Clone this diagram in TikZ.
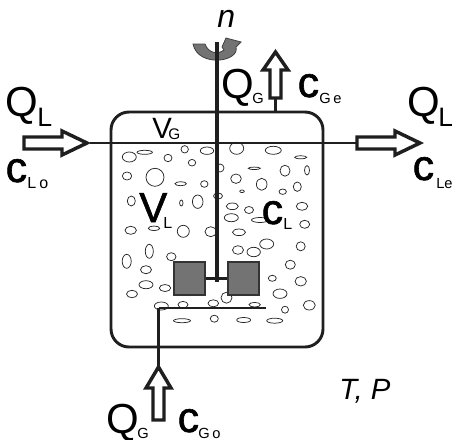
\documentclass[tikz,border=0pt]{standalone}
\usepackage{fontspec}
\setmainfont{Liberation Sans}
\newfontfamily\heavyfont[FakeBold=1.4]{Liberation Sans}
\tikzset{
  lab/.style={inner sep=0pt,anchor=base west},
  big/.style={lab,font=\fontsize{31.5pt}{32pt}\selectfont},
  cee/.style={lab,font=\fontsize{32pt}{33pt}\heavyfont},
  mid/.style={lab,font=\fontsize{20pt}{20pt}\selectfont},
  sub/.style={lab,font=\fontsize{12pt}{12pt}\selectfont},
  small/.style={lab,font=\fontsize{11pt}{11pt}\selectfont},
  ital/.style={lab,font=\fontsize{22pt}{22pt}\selectfont\itshape},
  tank/.style={draw=black!88,line width=2.2pt,rounded corners=13.5pt},
  heavy line/.style={draw=black!88,line width=2.8pt},
  bar line/.style={draw=black!88,line width=2.2pt},
  thin line/.style={draw=black!88,line width=1.2pt},
  bub/.style={draw=black!85,line width=0.55pt,fill=white},
  flow/.style={draw=black!88,line width=2.6pt,fill=white,miter limit=10},
  blade/.style={draw=black!80,line width=0.9pt,fill=black!55,inner sep=0pt,minimum width=23.25pt,minimum height=24.75pt},
}
\newcommand{\bb}[4]{\draw[bub] (#1,#2) ellipse [x radius=#3,y radius=#4];}
\begin{document}
\begin{tikzpicture}[x=0.75pt,y=-0.75pt]
\useasboundingbox (0,0) rectangle (452,439);
% bubbles
\bb{129.3}{157}{7}{5}\bb{144.7}{152.3}{7.7}{2}\bb{168}{158}{4}{3.7}\bb{184.7}{149.3}{3.7}{3.7}
\bb{207}{150.7}{6.7}{3.7}\bb{192}{162.7}{3.7}{3.3}\bb{127}{176}{4.7}{4}\bb{155}{177.3}{9}{9}
\bb{180.7}{183.7}{5.7}{2}\bb{204.3}{184}{3.7}{3.3}\bb{131.3}{201}{4}{5}\bb{181.3}{203}{1.7}{3}
\bb{197.7}{201.7}{5.3}{6.7}\bb{218}{196}{4.5}{3}\bb{220}{168}{4}{4}\bb{154}{228.3}{5.7}{2.3}
\bb{130.7}{230.3}{5.7}{4}\bb{183.3}{231.3}{6}{6}\bb{210.7}{231.7}{5.7}{5}\bb{149.3}{251.3}{4}{7}
\bb{126.7}{261.3}{4.5}{7}\bb{171.3}{256.7}{4.7}{4}\bb{146}{269.7}{5.5}{4}\bb{146}{284.7}{7}{4}
\bb{165}{288}{5.7}{3.5}\bb{132}{294}{5.5}{3.7}\bb{161.3}{306}{7}{4}\bb{183}{304.7}{5}{3.3}
\bb{213.3}{303.3}{5.3}{3.5}\bb{182}{320.7}{8.5}{2}\bb{214.3}{318.7}{4}{3.5}
\bb{232.3}{206.3}{6}{3.3}\bb{249}{210}{4.5}{3.5}\bb{231.3}{217.7}{7}{4}\bb{260}{220}{8.5}{2.5}
\bb{302}{206.3}{5.7}{4}\bb{304.7}{224.3}{5}{4}\bb{239}{232.3}{6.5}{3.3}\bb{266.7}{244}{7}{5}
\bb{238}{250}{5.5}{4.3}\bb{253.7}{252}{6.7}{4.7}\bb{300.7}{246.3}{4.5}{4.5}\bb{290.3}{264.7}{5}{4.5}
\bb{272.3}{278.3}{4}{3}\bb{300.7}{281.3}{5.7}{4.7}\bb{280}{293.7}{7}{4.7}\bb{254.7}{304.7}{5.7}{2.3}
\bb{285}{309.7}{3.5}{3.5}\bb{309.3}{305.3}{6}{4.7}\bb{243.7}{320}{7}{2.5}\bb{274.7}{320.7}{8}{2.5}
\bb{236.7}{148.3}{7}{6}\bb{273.3}{150.3}{8}{4}\bb{300.7}{157.3}{6}{1.5}\bb{254.3}{168.3}{6}{1.2}
\bb{285}{170.7}{5}{5.5}\bb{307}{170.3}{2.5}{4.7}\bb{236}{178.7}{5.3}{4.7}\bb{261.7}{184.3}{5.3}{6}
\bb{242}{191.3}{2.3}{1.3}\bb{282.7}{191.7}{3.7}{2.7}\bb{297.3}{186.7}{4}{4.7}
\bb{226.5}{297.7}{5.5}{5.5}
% tank
\draw[tank] (111,112) rectangle (323,347);
% rotation
\draw[draw=black!75,fill=black!55,line width=0.6pt] (193,44) -- (205,44) .. controls (208,53) and (218,55) .. (224,50) -- (222,47) -- (226,38) -- (241,42) -- (236,47) .. controls (240,62) and (198,68) .. (193,44) -- cycle;
% connectors
\coordinate (shafttop) at (217,42);
\coordinate (hub) at (217,282);
\coordinate (levelL) at (90,143);
\coordinate (levelR) at (356,143);
\coordinate (spL) at (158.5,308);
\coordinate (spR) at (266,308);
\coordinate (inTip) at (158.5,366);
\coordinate (outBase) at (275.5,99);
\coordinate (outRoot) at (275.5,112);
\draw[thin line] (levelL) -- (levelR);
\draw[heavy line] (shafttop) -- (hub);
\draw[bar line] (spL) -- (spR);
\draw[bar line] (spL) -- (inTip);
\draw[bar line] (outBase) -- (outRoot);
% impeller
\node[blade] (bladeL) at (189.5,278.5) {};
\node[blade] (bladeR) at (243.5,278.5) {};
\draw[bar line] (bladeL) -- (bladeR);
% flow arrows
\draw[flow] (24,137) -- (62,137) -- (62,131) -- (87,143) -- (62,155) -- (62,149) -- (24,149) -- cycle;
\draw[flow] (357,137) -- (395,137) -- (395,131) -- (420,143) -- (395,155) -- (395,149) -- (357,149) -- cycle;
\draw[flow] (270,98) -- (270,70) -- (263,70) -- (275.5,52) -- (288,70) -- (281,70) -- (281,98) -- cycle;
\draw[flow] (153,420) -- (153,388) -- (146,388) -- (158.5,367) -- (171,388) -- (164,388) -- (164,420) -- cycle;
% labels
\node[lab,font=\fontsize{24pt}{24pt}\selectfont\itshape] (n) at (217,27) {n};
\node[big] (ql) at (5,116) {Q}; \node[mid] (qls) at (37,126) {L};
\node[cee] (cl0) at (5.5,182) {c}; \node[sub] (cl0s) at (27,188) {L\hspace{2.5pt}o};
\node[big] (qr) at (407,116) {Q}; \node[mid] (qrs) at (438,126) {L};
\node[cee] (cr) at (412.5,180) {c}; \node[small] (crs) at (436,188) {Le};
\node[big] (qg) at (221,98) {Q}; \node[small] (qgs) at (252,103) {G};
\node[cee] (cg) at (297.5,97) {c}; \node[small] (cgs) at (319,103) {G\hspace{2pt}e};
\node[big] (qgb) at (106,433) {Q}; \node[small] (qgbs) at (137,438) {G};
\node[cee] (cgb) at (177.5,432) {c}; \node[small] (cgbs) at (198,438) {G\hspace{2pt}o};
\node[lab,font=\fontsize{22pt}{22pt}\selectfont] (vg) at (152,138) {V}; \node[lab,font=\fontsize{11.5pt}{12pt}\selectfont] (vgs) at (168,139) {G};
\node[cee,font=\fontsize{31.5pt}{32pt}\heavyfont] (vl) at (139,222) {V}; \node[sub] (vls) at (163,228) {L};
\node[cee] (cl) at (261.5,224) {c}; \node[sub] (cls) at (283,229) {L};
\node[ital] (tp) at (339,399) {T, P};
\end{tikzpicture}
\end{document}
